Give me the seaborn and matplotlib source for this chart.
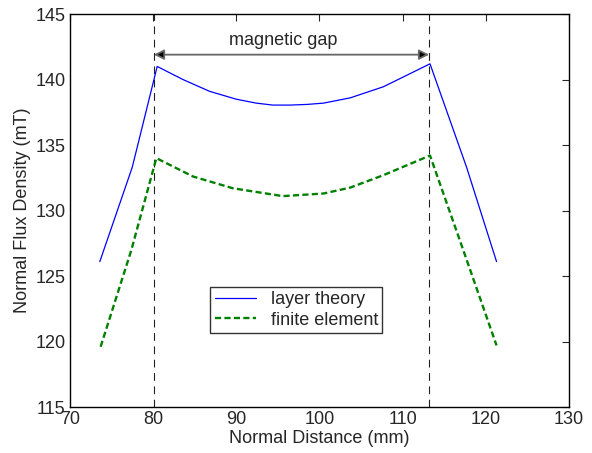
import matplotlib
matplotlib.use("Agg")
import matplotlib.pyplot as plt
import seaborn as sns
import pandas as pd

# layer theory curve
x_layer = [73.6, 77.5, 80.5, 83.6, 86.8, 90.0, 92.4, 94.4, 96.5, 98.5, 100.5, 103.7, 107.7, 110.1, 113.3, 117.7, 121.3]
y_layer = [126.1, 133.3, 141.0, 140.0, 139.1, 138.5, 138.2, 138.05, 138.05, 138.1, 138.2, 138.6, 139.45, 140.2, 141.2, 133.3, 126.1]

# finite element curve
x_fe = [73.7, 77.4, 80.4, 84.8, 89.6, 95.6, 100.5, 103.7, 107.7, 113.3, 116.9, 121.3]
y_fe = [119.6, 127.0, 134.0, 132.6, 131.7, 131.1, 131.3, 131.75, 132.7, 134.2, 127.7, 119.7]

gap_edges = [80.1, 113.2]

df_layer = pd.DataFrame({"x": x_layer, "y": y_layer})
df_fe = pd.DataFrame({"x": x_fe, "y": y_fe})

sns.set_style("white")
plt.rcParams["font.family"] = ["Liberation Sans", "DejaVu Sans"]

fig = plt.figure(figsize=(5.92, 4.53), dpi=100)
ax = fig.add_axes([0.118, 0.1015, 0.843, 0.8675])

sns.lineplot(data=df_layer, x="x", y="y", color="#0000ff", linewidth=0.9,
             label="layer theory", ax=ax, sort=False)
sns.lineplot(data=df_fe, x="x", y="y", color="#008000", linewidth=1.7,
             linestyle=(0, (2.6, 1.4)), label="finite element", ax=ax, sort=False)

for g in gap_edges:
    ax.axvline(g, color="#222222", linestyle=(0, (7, 5)), linewidth=0.8, zorder=1)

ax.annotate("", xy=(gap_edges[0], 141.9), xytext=(gap_edges[1], 141.9),
            arrowprops=dict(arrowstyle="<|-|>", edgecolor="#666666", facecolor="black",
                            lw=1.3, mutation_scale=15, shrinkA=0, shrinkB=0))
ax.text(95.6, 142.35, "magnetic gap", ha="center", va="bottom", fontsize=13)

ax.set_xlim(70, 130)
ax.set_ylim(115, 145)
ax.set_xticks(range(70, 131, 10))
ax.set_yticks(range(115, 146, 5))
ax.tick_params(direction="in", top=True, right=True, length=5, labelsize=13,
               width=0.8, pad=3)
for s in ax.spines.values():
    s.set_color("black")
    s.set_linewidth(1.0)

ax.set_xlabel("Normal Distance (mm)", fontsize=13, labelpad=1)
ax.set_ylabel("Normal Flux Density (mT)", fontsize=13, labelpad=3)

leg = ax.legend(loc="lower left", bbox_to_anchor=(0.281, 0.188), fontsize=13,
                frameon=True, fancybox=False, handlelength=2.3, handletextpad=0.8,
                borderpad=0.25, labelspacing=0.2, borderaxespad=0)
leg.get_frame().set_edgecolor("black")
leg.get_frame().set_linewidth(1.0)

fig.savefig("out.png", dpi=100)
